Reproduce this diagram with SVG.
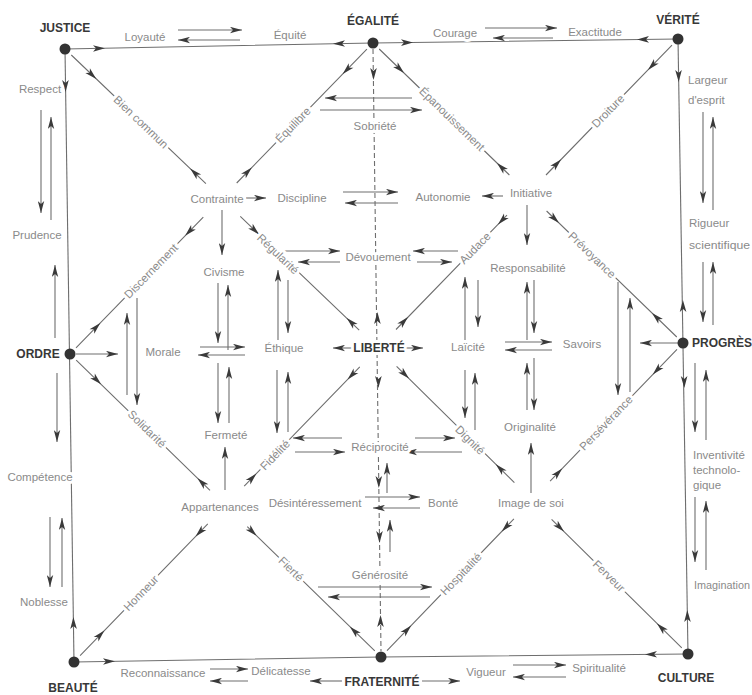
<svg xmlns="http://www.w3.org/2000/svg" xmlns:xlink="http://www.w3.org/1999/xlink" width="752" height="695" viewBox="0 0 752 695">
<style>
.ln{stroke:#6e6e6e;stroke-width:1.1;fill:none}
.ar{stroke:#6e6e6e;stroke-width:1.1;fill:none;marker-end:url(#a)}
.dash{stroke:#6e6e6e;stroke-width:1.1;fill:none;stroke-dasharray:5 3}
.hd{fill:#3a3a3a}
.dot{fill:#333}
text{font-family:"Liberation Sans",Arial,sans-serif;dominant-baseline:central;text-anchor:middle;stroke:#fff;stroke-width:6;paint-order:stroke;stroke-linejoin:round}
.big{font-weight:bold;font-size:12px;fill:#383838}
.sm{font-size:11.5px;fill:#8a8a8a}
.st{text-anchor:start}
</style>
<defs>
<marker id="a" viewBox="0 0 12 7" refX="12" refY="3.5" markerWidth="12" markerHeight="7" markerUnits="userSpaceOnUse" orient="auto"><path d="M0,0.3 L12,3.5 L0,6.7 L3,3.5 Z" fill="#3a3a3a"/></marker>
<path id="h" d="M0,0 L-12,-3.3 L-9,0 L-12,3.3 Z"/>
</defs>
<rect width="752" height="695" fill="#fff"/>
<g id="connectors">
<path class="ln" d="M65,49 L373,43 L678,39"/>
<path class="ln" d="M65,49 L74,662"/>
<path class="ln" d="M678,39 L688,654"/>
<path class="ln" d="M74,662 L381,657 L688,654"/>
<path class="dash" d="M373,49 L381,651"/>
<path class="ln" d="M71.3,55 L205.9,183.6 M240.3,216.4 L359.2,330.1"/>
<path class="ln" d="M672,45.2 L546,175 M507,215.1 L396,329.5"/>
<path class="ln" d="M80.1,655.7 L207.8,523.8 M244.2,486.2 L359.8,366.8"/>
<path class="ln" d="M681.8,647.9 L551.6,519.4 M514.4,482.6 L396.6,366.4"/>
<path class="ln" d="M366.9,49.2 L236.7,183 M203.3,217.2 L76,347.8"/>
<path class="ln" d="M379.2,49 L509.4,175 M546.6,211 L676.8,337"/>
<path class="ln" d="M76.2,360.1 L210,490.4 M247.3,526.7 L374.8,650.9"/>
<path class="ln" d="M677,349.3 L550.1,481.2 M513.9,518.8 L387,650.7"/>
<g class="hd">
<use xlink:href="#h" transform="translate(105,48.2) rotate(-1.1)"/>
<use xlink:href="#h" transform="translate(333,43.8) rotate(178.9)"/>
<use xlink:href="#h" transform="translate(413,42.5) rotate(-0.75)"/>
<use xlink:href="#h" transform="translate(637,39.5) rotate(179.25)"/>
<use xlink:href="#h" transform="translate(65.6,92) rotate(89.2)"/>
<use xlink:href="#h" transform="translate(73.4,617) rotate(-90.8)"/>
<use xlink:href="#h" transform="translate(678.7,82) rotate(89.1)"/>
<use xlink:href="#h" transform="translate(682.9,300) rotate(-90.9)"/>
<use xlink:href="#h" transform="translate(684.3,388) rotate(89.1)"/>
<use xlink:href="#h" transform="translate(687.3,610) rotate(-90.9)"/>
<use xlink:href="#h" transform="translate(115,661.3) rotate(-0.9)"/>
<use xlink:href="#h" transform="translate(645,654.4) rotate(179.6)"/>
<use xlink:href="#h" transform="translate(96.3,78.9) rotate(43.69)"/>
<use xlink:href="#h" transform="translate(190.2,168.6) rotate(223.69)"/>
<use xlink:href="#h" transform="translate(259.1,234.4) rotate(43.69)"/>
<use xlink:href="#h" transform="translate(346.7,318.1) rotate(223.69)"/>
<use xlink:href="#h" transform="translate(648,69.9) rotate(134.16)"/>
<use xlink:href="#h" transform="translate(561,159.5) rotate(314.16)"/>
<use xlink:href="#h" transform="translate(498,224.4) rotate(134.16)"/>
<use xlink:href="#h" transform="translate(408,317.1) rotate(314.16)"/>
<use xlink:href="#h" transform="translate(104.4,630.6) rotate(-45.92)"/>
<use xlink:href="#h" transform="translate(195.6,536.4) rotate(134.08)"/>
<use xlink:href="#h" transform="translate(256.4,473.6) rotate(-45.92)"/>
<use xlink:href="#h" transform="translate(347.6,379.4) rotate(134.08)"/>
<use xlink:href="#h" transform="translate(657,623.4) rotate(224.63)"/>
<use xlink:href="#h" transform="translate(564,531.6) rotate(44.63)"/>
<use xlink:href="#h" transform="translate(495.8,464.3) rotate(224.63)"/>
<use xlink:href="#h" transform="translate(409,378.6) rotate(44.63)"/>
<use xlink:href="#h" transform="translate(342.7,74.1) rotate(134.25)"/>
<use xlink:href="#h" transform="translate(251.8,167.4) rotate(314.25)"/>
<use xlink:href="#h" transform="translate(185.1,235.8) rotate(134.25)"/>
<use xlink:href="#h" transform="translate(100.3,322.9) rotate(314.25)"/>
<use xlink:href="#h" transform="translate(404,73) rotate(44.06)"/>
<use xlink:href="#h" transform="translate(497,163) rotate(224.06)"/>
<use xlink:href="#h" transform="translate(559,223) rotate(44.06)"/>
<use xlink:href="#h" transform="translate(652,313) rotate(224.06)"/>
<use xlink:href="#h" transform="translate(101.1,384.3) rotate(44.26)"/>
<use xlink:href="#h" transform="translate(197.5,478.2) rotate(224.26)"/>
<use xlink:href="#h" transform="translate(256.6,535.8) rotate(44.26)"/>
<use xlink:href="#h" transform="translate(349.9,626.7) rotate(224.26)"/>
<use xlink:href="#h" transform="translate(652.8,374.4) rotate(133.88)"/>
<use xlink:href="#h" transform="translate(562.2,468.6) rotate(313.88)"/>
<use xlink:href="#h" transform="translate(501.8,531.4) rotate(133.88)"/>
<use xlink:href="#h" transform="translate(411.2,625.6) rotate(313.88)"/>
<use xlink:href="#h" transform="translate(373.5,80) rotate(90)"/>
<use xlink:href="#h" transform="translate(377.4,312) rotate(-90)"/>
<use xlink:href="#h" transform="translate(378.4,388) rotate(90)"/>
<use xlink:href="#h" transform="translate(378.8,488) rotate(90)"/>
<use xlink:href="#h" transform="translate(379.5,543) rotate(90)"/>
<use xlink:href="#h" transform="translate(380.5,615) rotate(-90)"/>
</g>
<line class="ar" x1="178" y1="30" x2="242" y2="30"/>
<line class="ar" x1="240" y1="40" x2="178" y2="40"/>
<line class="ar" x1="485" y1="28" x2="557" y2="28"/>
<line class="ar" x1="553" y1="38" x2="493" y2="38"/>
<line class="ar" x1="412" y1="98" x2="325" y2="98"/>
<line class="ar" x1="320" y1="110" x2="422" y2="110"/>
<line class="ar" x1="41" y1="110" x2="41" y2="213"/>
<line class="ar" x1="51" y1="220" x2="51" y2="117"/>
<line class="ar" x1="55" y1="338" x2="55" y2="265"/>
<line class="ar" x1="57" y1="373" x2="57" y2="442"/>
<line class="ar" x1="50" y1="517" x2="50" y2="587"/>
<line class="ar" x1="62" y1="587" x2="62" y2="518"/>
<line class="ar" x1="703" y1="112" x2="703" y2="203"/>
<line class="ar" x1="713" y1="210" x2="713" y2="117"/>
<line class="ar" x1="703" y1="262" x2="703" y2="322"/>
<line class="ar" x1="713" y1="325" x2="713" y2="262"/>
<line class="ar" x1="695" y1="363" x2="695" y2="432"/>
<line class="ar" x1="706" y1="440" x2="706" y2="370"/>
<line class="ar" x1="695" y1="497" x2="695" y2="562"/>
<line class="ar" x1="706" y1="570" x2="706" y2="501"/>
<line class="ar" x1="210" y1="669" x2="248" y2="669"/>
<line class="ar" x1="248" y1="681" x2="210" y2="681"/>
<line class="ar" x1="342" y1="681" x2="310" y2="681"/>
<line class="ar" x1="422" y1="681" x2="460" y2="681"/>
<line class="ar" x1="513" y1="665" x2="566" y2="665"/>
<line class="ar" x1="566" y1="677" x2="513" y2="677"/>
<line class="ar" x1="246" y1="198" x2="266" y2="198"/>
<line class="ar" x1="343" y1="192" x2="398" y2="192"/>
<line class="ar" x1="398" y1="203" x2="345" y2="203"/>
<line class="ar" x1="503" y1="196" x2="482" y2="196"/>
<line class="ar" x1="283" y1="251" x2="340" y2="251"/>
<line class="ar" x1="340" y1="262" x2="298" y2="262"/>
<line class="ar" x1="458" y1="251" x2="413" y2="251"/>
<line class="ar" x1="417" y1="262" x2="452" y2="262"/>
<line class="ar" x1="76" y1="354" x2="118" y2="354"/>
<line class="ar" x1="200" y1="347" x2="245" y2="347"/>
<line class="ar" x1="245" y1="355" x2="198" y2="355"/>
<line class="ar" x1="352" y1="348" x2="333" y2="348"/>
<line class="ar" x1="404" y1="348" x2="423" y2="348"/>
<line class="ar" x1="505" y1="342" x2="552" y2="342"/>
<line class="ar" x1="552" y1="350" x2="505" y2="350"/>
<line class="ar" x1="678" y1="343" x2="640" y2="343"/>
<line class="ar" x1="342" y1="438" x2="293" y2="438"/>
<line class="ar" x1="295" y1="452" x2="345" y2="452"/>
<line class="ar" x1="415" y1="438" x2="455" y2="438"/>
<line class="ar" x1="462" y1="452" x2="405" y2="452"/>
<line class="ar" x1="365" y1="497" x2="420" y2="497"/>
<line class="ar" x1="420" y1="508" x2="373" y2="508"/>
<line class="ar" x1="318" y1="587" x2="432" y2="587"/>
<line class="ar" x1="430" y1="597" x2="328" y2="597"/>
<line class="ar" x1="222" y1="210" x2="222" y2="255"/>
<line class="ar" x1="218" y1="283" x2="218" y2="343"/>
<line class="ar" x1="228" y1="350" x2="228" y2="285"/>
<line class="ar" x1="218" y1="363" x2="218" y2="423"/>
<line class="ar" x1="229" y1="423" x2="229" y2="367"/>
<line class="ar" x1="225" y1="490" x2="225" y2="447"/>
<line class="ar" x1="278" y1="340" x2="278" y2="270"/>
<line class="ar" x1="288" y1="280" x2="288" y2="333"/>
<line class="ar" x1="277" y1="370" x2="277" y2="433"/>
<line class="ar" x1="288" y1="432" x2="288" y2="372"/>
<line class="ar" x1="465" y1="340" x2="465" y2="277"/>
<line class="ar" x1="478" y1="280" x2="478" y2="327"/>
<line class="ar" x1="465" y1="370" x2="465" y2="418"/>
<line class="ar" x1="475" y1="430" x2="475" y2="373"/>
<line class="ar" x1="527" y1="205" x2="527" y2="245"/>
<line class="ar" x1="527" y1="340" x2="527" y2="282"/>
<line class="ar" x1="534" y1="280" x2="534" y2="333"/>
<line class="ar" x1="527" y1="410" x2="527" y2="363"/>
<line class="ar" x1="534" y1="358" x2="534" y2="410"/>
<line class="ar" x1="531" y1="493" x2="531" y2="443"/>
<line class="ar" x1="127" y1="395" x2="127" y2="313"/>
<line class="ar" x1="137" y1="298" x2="137" y2="405"/>
<line class="ar" x1="618" y1="282" x2="618" y2="395"/>
<line class="ar" x1="630" y1="392" x2="630" y2="298"/>
<line class="ar" x1="387" y1="493" x2="387" y2="463"/>
<line class="ar" x1="390" y1="552" x2="390" y2="520"/>
</g>
<g id="justice"><circle class="dot" cx="65" cy="49" r="5.5"/><text class="big" x="65" y="28">JUSTICE</text></g>
<g id="egalite"><circle class="dot" cx="373" cy="43" r="5.5"/><text class="big" x="373" y="21">ÉGALITÉ</text></g>
<g id="verite"><circle class="dot" cx="678" cy="39" r="5.5"/><text class="big" x="678" y="20">VÉRITÉ</text></g>
<g id="ordre"><circle class="dot" cx="70" cy="354" r="5.5"/><text class="big" x="38" y="354">ORDRE</text></g>
<g id="liberte"><text class="big" x="379" y="348">LIBERTÉ</text></g>
<g id="progres"><circle class="dot" cx="683" cy="343" r="5.5"/><text class="big st" x="692" y="343">PROGRÈS</text></g>
<g id="beaute"><circle class="dot" cx="74" cy="662" r="5.5"/><text class="big" x="73" y="688">BEAUTÉ</text></g>
<g id="fraternite"><circle class="dot" cx="381" cy="657" r="5.5"/><text class="big" x="382" y="682">FRATERNITÉ</text></g>
<g id="culture"><circle class="dot" cx="688" cy="654" r="5.5"/><text class="big" x="686" y="678">CULTURE</text></g>
<g id="loyaute"><text class="sm" x="145" y="37">Loyauté</text></g>
<g id="equite"><text class="sm" x="290" y="35">Équité</text></g>
<g id="courage"><text class="sm" x="455" y="33">Courage</text></g>
<g id="exactitude"><text class="sm" x="595" y="32">Exactitude</text></g>
<g id="respect"><text class="sm" x="40" y="89">Respect</text></g>
<g id="prudence"><text class="sm" x="37" y="235">Prudence</text></g>
<g id="competence"><text class="sm" x="40" y="477">Compétence</text></g>
<g id="noblesse"><text class="sm" x="44" y="602">Noblesse</text></g>
<g id="largeur"><text class="sm st" x="688" y="80">Largeur</text><text class="sm st" x="688" y="100">d'esprit</text></g>
<g id="rigueur"><text class="sm st" x="689" y="223">Rigueur</text><text class="sm st" x="689" y="245" textLength="61" lengthAdjust="spacingAndGlyphs">scientifique</text></g>
<g id="inventivite"><text class="sm st" x="693" y="455">Inventivité</text><text class="sm st" x="693" y="470">technolo-</text><text class="sm st" x="693" y="485">gique</text></g>
<g id="imagination"><text class="sm st" x="694" y="585" textLength="56" lengthAdjust="spacingAndGlyphs">Imagination</text></g>
<g id="reconnaissance"><text class="sm" x="163" y="673">Reconnaissance</text></g>
<g id="delicatesse"><text class="sm" x="281" y="671">Délicatesse</text></g>
<g id="vigueur"><text class="sm" x="486" y="672">Vigueur</text></g>
<g id="spiritualite"><text class="sm" x="599" y="668">Spiritualité</text></g>
<g id="sobriete"><text class="sm" x="375" y="126">Sobriété</text></g>
<g id="contrainte"><text class="sm" x="217" y="199">Contrainte</text></g>
<g id="discipline"><text class="sm" x="302" y="198">Discipline</text></g>
<g id="autonomie"><text class="sm" x="443" y="197">Autonomie</text></g>
<g id="initiative"><text class="sm" x="531" y="193">Initiative</text></g>
<g id="devouement"><text class="sm" x="378" y="257">Dévouement</text></g>
<g id="civisme"><text class="sm" x="224" y="272">Civisme</text></g>
<g id="responsabilite"><text class="sm" x="528" y="268">Responsabilité</text></g>
<g id="morale"><text class="sm" x="163" y="352">Morale</text></g>
<g id="ethique"><text class="sm" x="284" y="348">Éthique</text></g>
<g id="laicite"><text class="sm" x="468" y="347">Laïcité</text></g>
<g id="savoirs"><text class="sm" x="582" y="344">Savoirs</text></g>
<g id="fermete"><text class="sm" x="226" y="435">Fermeté</text></g>
<g id="originalite"><text class="sm" x="530" y="427">Originalité</text></g>
<g id="reciprocite"><text class="sm" x="380" y="447">Réciprocité</text></g>
<g id="appartenances"><text class="sm" x="220" y="507">Appartenances</text></g>
<g id="desinteressement"><text class="sm" x="315" y="503">Désintéressement</text></g>
<g id="bonte"><text class="sm" x="443" y="503">Bonté</text></g>
<g id="image-de-soi"><text class="sm" x="531" y="503">Image de soi</text></g>
<g id="generosite"><text class="sm" x="380" y="575">Générosité</text></g>
<g id="bien-commun"><text class="sm" transform="translate(141,122) rotate(43.7)">Bien commun</text></g>
<g id="equilibre"><text class="sm" transform="translate(293,125) rotate(-45.7)">Équilibre</text></g>
<g id="epanouissement"><text class="sm" transform="translate(452,119) rotate(44.1)">Épanouissement</text></g>
<g id="droiture"><text class="sm" transform="translate(608,111) rotate(-45.8)">Droiture</text></g>
<g id="discernement"><text class="sm" transform="translate(151,271) rotate(-45.7)">Discernement</text></g>
<g id="regularite"><text class="sm" transform="translate(278,254) rotate(43.7)">Régularité</text></g>
<g id="audace"><text class="sm" transform="translate(475,248) rotate(-45.8)">Audace</text></g>
<g id="prevoyance"><text class="sm" transform="translate(592,255) rotate(44.1)">Prévoyance</text></g>
<g id="solidarite"><text class="sm" transform="translate(147,429) rotate(44.3)">Solidarité</text></g>
<g id="fidelite"><text class="sm" transform="translate(275,455) rotate(-45.9)">Fidélité</text></g>
<g id="dignite"><text class="sm" transform="translate(470,440) rotate(44.6)">Dignité</text></g>
<g id="perseverance"><text class="sm" transform="translate(606,423) rotate(-46.1)">Persévérance</text></g>
<g id="honneur"><text class="sm" transform="translate(141,593) rotate(-45.9)">Honneur</text></g>
<g id="fierte"><text class="sm" transform="translate(291,569) rotate(44.3)">Fierté</text></g>
<g id="hospitalite"><text class="sm" transform="translate(461,574) rotate(-46.1)">Hospitalité</text></g>
<g id="ferveur"><text class="sm" transform="translate(609,576) rotate(44.6)">Ferveur</text></g>
</svg>
